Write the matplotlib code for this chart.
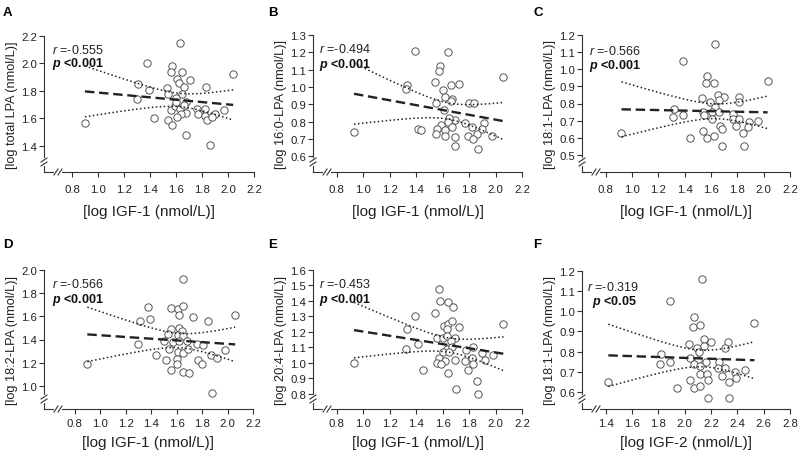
import numpy as np
import matplotlib
matplotlib.use('Agg')
import matplotlib.pyplot as plt

plt.rcParams['font.family'] = ['Liberation Sans', 'DejaVu Sans']
plt.rcParams['mathtext.fontset'] = 'custom'
plt.rcParams['mathtext.rm'] = 'Liberation Sans'
plt.rcParams['mathtext.it'] = 'Liberation Sans:italic'
plt.rcParams['mathtext.bf'] = 'Liberation Sans:bold'
plt.rcParams['mathtext.bfit'] = 'Liberation Sans:bold:italic'

# ---- data ----
a_x = [0.90, 1.38, 1.57, 1.56, 1.65, 1.61, 1.62, 1.71, 1.66, 1.83,
       1.53, 1.39, 1.31, 1.54, 1.65, 1.30, 1.60, 1.68, 2.04, 1.56,
       1.59, 1.63, 1.76, 1.82, 1.97, 1.68, 1.64, 1.77, 1.82, 1.90,
       1.61, 1.54, 1.57, 1.43, 1.84, 1.88, 1.68, 1.86, 1.63, 1.66, 1.60]
a_y = [1.57, 2.00, 1.98, 1.94, 1.94, 1.89, 1.86, 1.88, 1.83, 1.83,
       1.82, 1.81, 1.85, 1.78, 1.78, 1.74, 1.75, 1.72, 1.92, 1.66,
       1.69, 1.67, 1.67, 1.67, 1.66, 1.64, 1.63, 1.63, 1.62, 1.63,
       1.61, 1.59, 1.55, 1.60, 1.59, 1.61, 1.48, 1.41, 2.15, 1.70, 1.72]

b_x = [0.93, 1.39, 1.64, 1.58, 1.57, 1.54, 1.33, 1.32, 1.72, 1.66,
       1.60, 2.06, 1.62, 1.67, 1.66, 1.55, 1.80, 1.84, 1.61, 1.69,
       1.65, 1.64, 1.77, 1.59, 1.67, 1.56, 1.62, 1.91, 1.90, 1.82,
       1.41, 1.44, 1.55, 1.62, 1.69, 1.79, 1.86, 1.97, 1.83, 1.69, 1.87]
b_y = [0.74, 1.21, 1.20, 1.12, 1.09, 1.03, 1.01, 0.99, 1.02, 1.01,
       0.98, 1.06, 0.94, 0.93, 0.92, 0.91, 0.91, 0.91, 0.87, 0.81,
       0.82, 0.80, 0.79, 0.78, 0.77, 0.76, 0.75, 0.79, 0.76, 0.77,
       0.76, 0.75, 0.73, 0.72, 0.71, 0.72, 0.73, 0.72, 0.70, 0.66, 0.64]

c_x = [0.92, 1.63, 1.39, 1.57, 1.56, 1.62, 2.03, 1.65, 1.70, 1.53,
       1.81, 1.59, 1.66, 1.81, 1.63, 1.32, 1.54, 1.61, 1.66, 1.39,
       1.31, 1.55, 1.77, 1.61, 1.77, 1.81, 1.96, 1.67, 1.79, 1.68,
       1.89, 1.88, 1.84, 1.54, 1.57, 1.62, 1.44, 1.68, 1.85]
c_y = [0.63, 1.15, 1.05, 0.96, 0.92, 0.92, 0.93, 0.85, 0.84, 0.83,
       0.84, 0.81, 0.82, 0.81, 0.78, 0.77, 0.75, 0.75, 0.75, 0.73,
       0.72, 0.73, 0.74, 0.71, 0.71, 0.71, 0.70, 0.67, 0.67, 0.65,
       0.69, 0.66, 0.63, 0.64, 0.60, 0.61, 0.60, 0.55, 0.55]

d_x = [0.90, 1.65, 1.38, 1.56, 1.61, 1.65, 1.62, 1.73, 1.39, 1.31,
       1.85, 2.06, 1.62, 1.56, 1.64, 1.53, 1.61, 1.65, 1.50, 1.57,
       1.62, 1.68, 1.76, 1.30, 1.81, 1.98, 1.54, 1.61, 1.65, 1.69,
       1.44, 1.87, 1.92, 1.77, 1.80, 1.52, 1.60, 1.60, 1.56, 1.65,
       1.70, 1.88]
d_y = [1.19, 1.92, 1.68, 1.67, 1.66, 1.69, 1.61, 1.59, 1.58, 1.56,
       1.56, 1.61, 1.50, 1.49, 1.47, 1.45, 1.44, 1.43, 1.39, 1.38,
       1.39, 1.39, 1.36, 1.36, 1.35, 1.31, 1.32, 1.29, 1.28, 1.32,
       1.27, 1.27, 1.24, 1.22, 1.19, 1.22, 1.23, 1.19, 1.14, 1.12,
       1.11, 0.94]

e_x = [0.93, 1.57, 1.58, 1.64, 1.68, 1.39, 1.54, 2.06, 1.61, 1.64,
       1.67, 1.63, 1.72, 1.33, 1.56, 1.60, 1.63, 1.69, 1.66, 1.41,
       1.32, 1.63, 1.67, 1.83, 1.78, 1.60, 1.65, 1.90, 1.98, 1.57,
       1.62, 1.69, 1.77, 1.82, 1.92, 1.56, 1.59, 1.83, 1.45, 1.79,
       1.64, 1.86, 1.70, 1.87]
e_y = [1.00, 1.48, 1.40, 1.39, 1.36, 1.30, 1.32, 1.25, 1.24, 1.25,
       1.27, 1.22, 1.23, 1.22, 1.16, 1.16, 1.17, 1.16, 1.14, 1.12,
       1.09, 1.09, 1.10, 1.10, 1.08, 1.07, 1.07, 1.06, 1.05, 1.03,
       1.01, 1.02, 1.01, 1.03, 1.02, 1.00, 0.99, 0.99, 0.95, 0.95,
       0.93, 0.88, 0.83, 0.80]

f_x = [1.42, 2.13, 1.89, 2.07, 2.06, 2.12, 2.53, 2.03, 2.15, 2.20,
       2.33, 2.31, 2.09, 2.15, 1.82, 2.11, 1.81, 1.89, 2.04, 2.10,
       2.16, 2.26, 2.07, 2.12, 2.25, 2.31, 2.12, 2.17, 2.28, 2.38,
       2.46, 2.39, 2.18, 2.34, 2.04, 2.07, 2.12, 1.94, 2.18, 2.34]
f_y = [0.65, 1.16, 1.05, 0.97, 0.92, 0.93, 0.94, 0.84, 0.86, 0.85,
       0.85, 0.82, 0.82, 0.83, 0.79, 0.80, 0.74, 0.75, 0.77, 0.76,
       0.75, 0.75, 0.74, 0.73, 0.72, 0.72, 0.69, 0.69, 0.68, 0.70,
       0.71, 0.67, 0.66, 0.65, 0.66, 0.62, 0.63, 0.62, 0.57, 0.57]

letters = ['A', 'B', 'C', 'D', 'E', 'F']
ylabels = ['[log total LPA (nmol/L)]', '[log 16:0-LPA (nmol/L)]', '[log 18:1-LPA (nmol/L)]',
           '[log 18:2-LPA (nmol/L)]', '[log 20:4-LPA (nmol/L)]', '[log 18:1-LPA (nmol/L)]']
xlabels = ['[log IGF-1 (nmol/L)]'] * 5 + ['[log IGF-2 (nmol/L)]']
r_vals = ['-0.555', '-0.494', '-0.566', '-0.566', '-0.453', '-0.319']
p_vals = ['<0.001', '<0.001', '<0.001', '<0.001', '<0.001', '<0.05']

xs_all = [a_x, b_x, c_x, d_x, e_x, f_x]
ys_all = [a_y, b_y, c_y, d_y, e_y, f_y]

xlims = [(0.585, 2.2), (0.62, 2.2), (0.62, 2.2), (0.56, 2.2), (0.62, 2.2), (1.22, 2.8)]
ylims = [(1.21, 2.2), (0.51, 1.3), (0.40, 1.2), (0.80, 2.0), (0.70, 1.6), (0.515, 1.2)]
xticks = [np.arange(0.8, 2.21, 0.2)] * 5 + [np.arange(1.4, 2.81, 0.2)]
yticks = [np.arange(1.4, 2.21, 0.2), np.arange(0.6, 1.31, 0.1), np.arange(0.5, 1.21, 0.1),
          np.arange(1.0, 2.01, 0.2), np.arange(0.8, 1.61, 0.1), np.arange(0.6, 1.21, 0.1)]

W, H = 799, 456
# axes boxes in pixels: left, top, right, bottom
boxes = [(44, 37, 254, 173), (313, 36, 522, 173), (582, 36, 790, 173),
         (44, 271, 253, 410), (313, 271, 522, 410), (582, 272, 790, 410)]
ann_pos = [((0.037, 0.90), (0.037, 0.80)), ((0.03, 0.90), (0.03, 0.79)),
           ((0.035, 0.89), (0.035, 0.78)), ((0.038, 0.90), (0.038, 0.79)),
           ((0.03, 0.90), (0.03, 0.79)), ((0.024, 0.89), (0.047, 0.78))]
letter_pos = [(3, 13), (268, 13), (533, 13), (3, 245), (268, 245), (533, 245)]
tick_pads = [5.2, 5.2, 5.2, 3.0, 3.0, 3.0]
label_pads = [7.5, 7.5, 7.5, 5.0, 5.0, 5.0]

DARK = '#333333'


def fit_band(x, y):
    x = np.asarray(x)
    y = np.asarray(y)
    n = len(x)
    b, a = np.polyfit(x, y, 1)
    xs = np.linspace(x.min(), x.max(), 100)
    yhat = a + b * xs
    s = np.sqrt(np.sum((y - (a + b * x)) ** 2) / (n - 2))
    sxx = np.sum((x - x.mean()) ** 2)
    se = s * np.sqrt(1.0 / n + (xs - x.mean()) ** 2 / sxx)
    return xs, yhat, yhat - 2.02 * se, yhat + 2.02 * se


def axis_breaks(ax, wpx, hpx, d=10):
    kw = dict(transform=ax.transAxes, clip_on=False, color=DARK, lw=0.8, zorder=6)
    wk = dict(transform=ax.transAxes, clip_on=False, color='white', lw=3, zorder=5)
    # y axis
    yb = d / hpx
    g = 2.0 / hpx
    ax.plot([0, 0], [yb - g, yb + g], **wk)
    for off in (-g, g):
        ax.plot([-3 / wpx, 3 / wpx], [yb + off - 2 / hpx, yb + off + 2 / hpx], **kw)
    # x axis
    xb = (d + 4) / wpx
    g = 2.0 / wpx
    ax.plot([xb - g, xb + g], [0, 0], **wk)
    for off in (-g, g):
        ax.plot([xb + off - 2 / wpx, xb + off + 2 / wpx], [-3 / hpx, 3 / hpx], **kw)


fig = plt.figure(figsize=(W / 100, H / 100), dpi=100)

for i in range(6):
    l, t, r, b = boxes[i]
    ax = fig.add_axes([l / W, 1 - b / H, (r - l) / W, (b - t) / H])
    x, y = xs_all[i], ys_all[i]

    ax.scatter(x, y, s=28, facecolor='white', edgecolor='#555555', linewidth=0.7, zorder=3)
    xs, yhat, lo, hi = fit_band(x, y)
    ax.plot(xs, yhat, color='#222222', lw=1.7, ls=(0, (4, 2)), zorder=4)
    ax.plot(xs, lo, color='#222222', lw=1.1, ls=(0, (1, 1.6)), zorder=4)
    ax.plot(xs, hi, color='#222222', lw=1.1, ls=(0, (1, 1.6)), zorder=4)

    ax.set_xlim(*xlims[i])
    ax.set_ylim(*ylims[i])
    ax.set_xticks(xticks[i])
    ax.set_yticks(yticks[i])
    ax.set_xticklabels(['%.1f' % v for v in xticks[i]])
    ax.set_yticklabels(['%.1f' % v for v in yticks[i]])
    for s in ['top', 'right']:
        ax.spines[s].set_visible(False)
    for s in ['left', 'bottom']:
        ax.spines[s].set_color(DARK)
        ax.spines[s].set_linewidth(0.8)
    ax.tick_params(axis='both', direction='out', length=3.5, width=0.8, color=DARK,
                   labelsize=8.2, labelcolor='#222222')
    ax.tick_params(axis='x', pad=tick_pads[i])
    ax.tick_params(axis='y', pad=1.5)
    ax.set_xlabel(xlabels[i], fontsize=11, labelpad=label_pads[i], color='#222222')
    ax.set_ylabel(ylabels[i], fontsize=9.2, labelpad=2, color='#222222')

    axis_breaks(ax, r - l, b - t)

    (rx, ry), (px, py) = ann_pos[i]
    ax.text(rx, ry, r'$\mathit{r}$ =' + r_vals[i], transform=ax.transAxes,
            fontsize=9, va='center', ha='left', color='#222222')
    ax.text(px, py, r'$\mathbfit{p}$ ' + p_vals[i], transform=ax.transAxes,
            fontsize=9, va='center', ha='left', fontweight='bold', color='#111111')

    lx, ly = letter_pos[i]
    fig.text(lx / W, 1 - ly / H, letters[i], fontsize=9.5, fontweight='bold', va='center', ha='left')

fig.savefig('out.png', dpi=100)
